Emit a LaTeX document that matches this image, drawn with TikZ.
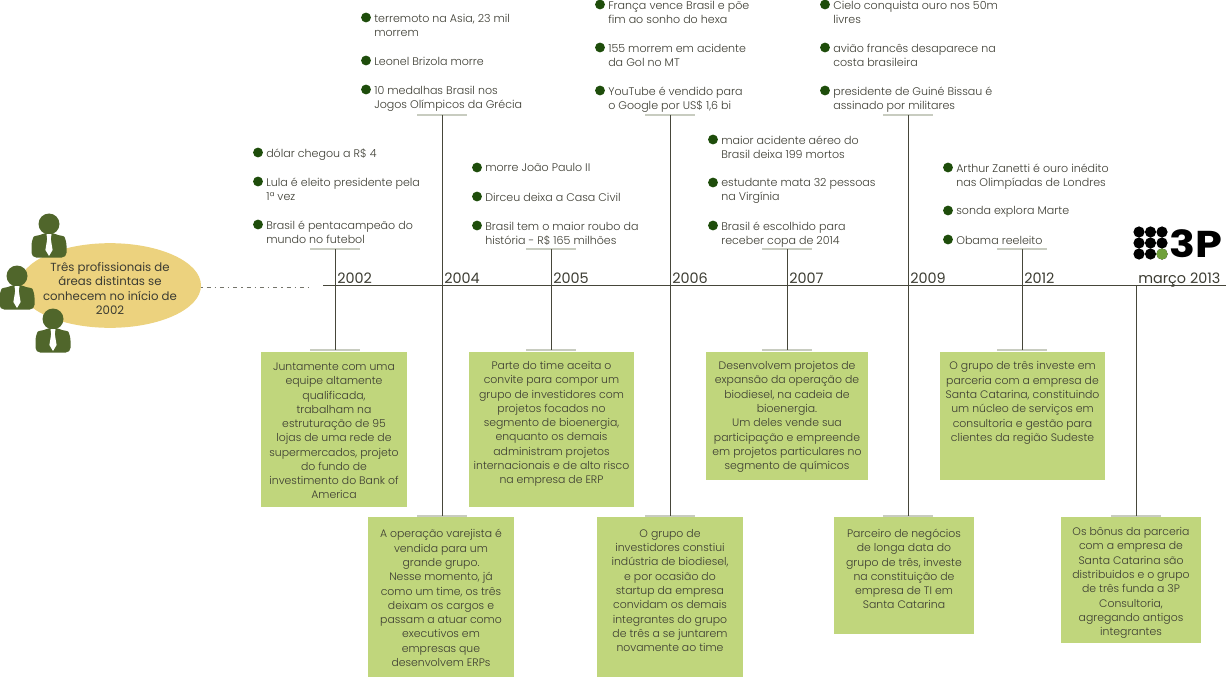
\documentclass[tikz,border=0pt]{standalone}
\usepackage{fontspec}
\usepackage{graphicx}
\usetikzlibrary{shapes.geometric}
\setmainfont{Poppins Light}
\newfontfamily\boldf{Poppins Bold}
\newfontfamily\regf{Poppins}
\definecolor{txt}{HTML}{3C3C32}
\definecolor{axisc}{HTML}{46463A}
\definecolor{capc}{HTML}{C8CCC0}
\definecolor{boxc}{HTML}{C0D67C}
\definecolor{ell}{HTML}{ECD27E}
\definecolor{bul}{HTML}{1E4D0B}
\definecolor{pers}{HTML}{50662B}
\definecolor{logog}{HTML}{6FA03A}
\tikzset{
  every node/.style={text=txt,inner sep=0pt,font=\fontsize{8.15pt}{10.7pt}\selectfont},
  axisline/.style={draw=axisc,line width=0.65pt},
  capline/.style={draw=capc,line width=1.5pt},
  greenbox/.style={fill=boxc,anchor=north west,align=center},
  yearlab/.style={font=\regf\fontsize{10.8pt}{12pt}\selectfont,anchor=base west},
  bulletdot/.style={circle,fill=bul,minimum size=7.4pt},
  itemtext/.style={anchor=north west,align=left,font=\fontsize{8.3pt}{10.5pt}\selectfont},
}
\newcommand{\bulitem}[4]{%
  \node[bulletdot] (#1d) at (#2,#3-0.5) {};
  \node[itemtext] (#1) at (#2+8,#3-4.5) {#4};}
\newcommand{\person}[3]{%
  \fill[pers] (#2,#3) circle (10.5);
  \fill[pers,rounded corners=3.5] (#2-17.5,#3+33.5) -- (#2-17.5,#3+17) .. controls (#2-15,#3+12) and (#2-9,#3+11) .. (#2-5,#3+9) -- (#2+5,#3+9) .. controls (#2+9,#3+11) and (#2+15,#3+12) .. (#2+17.5,#3+17) -- (#2+17.5,#3+33.5) -- cycle;
  \fill[white] (#2-2.5,#3+10) -- (#2+2.5,#3+10) -- (#2+1.8,#3+15) -- (#2+3.6,#3+26) -- (#2,#3+32) -- (#2-3.6,#3+26) -- (#2-1.8,#3+15) -- cycle;
  \coordinate (#1) at (#2,#3);}
\begin{document}
\begin{tikzpicture}[x=0.75pt,y=-0.75pt]
\useasboundingbox (0,0) rectangle (1226,677);
\node[ellipse,fill=ell,minimum width=136.5pt,minimum height=63.5pt,align=center,inner sep=0pt] (start) at (110,285.5) {};
\person{p1}{49}{224}
\person{p2}{17}{276}
\person{p3}{53}{319}
\node[align=center,font=\regf\fontsize{8.8pt}{10.6pt}\selectfont] (startlab) at (110,288.5) {Três profissionais de\\áreas distintas se\\conhecem no início de\\2002};
\coordinate (dashend) at (310,287);
\draw[axisc!75,line width=0.5pt,dash pattern=on 1pt off 3pt on 3pt off 3pt] (start.east) ++(0,1.5) -- (dashend);
\coordinate (axL) at (323,285);
\coordinate (axR) at (1226,285);
\draw[axisline] (axL) -- (axR);
\foreach \n/\x/\t/\b/\lab in {a/335/249/350/2002,b/442/115/516/2004,c/551/249/350/2005,d/670/115/516/2006,e/787/249/350/2007,f/908/115/516/2009,g/1022/249/350/2012}{
  \coordinate (\n t) at (\x,\t);
  \coordinate (\n b) at (\x,\b);
  \draw[capline] ([xshift=-18.75pt]\n t) -- ([xshift=18.75pt]\n t);
  \draw[capline] ([xshift=-18.75pt]\n b) -- ([xshift=18.75pt]\n b);
  \draw[axisline] (\n t) -- (\n b);
  \node[yearlab] (\n y) at (\x+2,283) {\lab};
}
\coordinate (ht) at (1136,285);
\coordinate (hb) at (1136,516);
\draw[capline] ([xshift=-18.75pt]hb) -- ([xshift=18.75pt]hb);
\draw[axisline] (ht) -- (hb);
\node[yearlab] (hy) at (1138,283) {março 2013};
\node[greenbox,minimum width=109.5pt,minimum height=116.25pt] (g1) at (261,352) {};
\node[align=center] at (334,431) {Juntamente com uma\\equipe altamente\\qualificada,\\trabalham na\\estruturação de 95\\lojas  de uma rede de\\supermercados, projeto\\do fundo de\\investimento do Bank of\\America};
\node[greenbox,minimum width=123.75pt,minimum height=116.25pt] (g2) at (469,352) {};
\node[align=center] at (551.5,424) {Parte do time aceita o\\convite para compor um\\grupo de investidores com\\projetos focados no\\segmento de bioenergia,\\enquanto os demais\\administram projetos\\internacionais e de alto risco\\na empresa de ERP};
\node[greenbox,minimum width=121.5pt,minimum height=96pt] (g3) at (706,352) {};
\node[align=center] at (787,417) {Desenvolvem projetos de\\expansão da operação de\\biodiesel, na cadeia de\\bioenergia.\\Um deles vende sua\\participação e empreende\\em projetos particulares no\\segmento de químicos};
\node[greenbox,minimum width=123.75pt,minimum height=96pt] (g4) at (940,352) {};
\node[align=center] at (1022.5,403) {O grupo de três investe em\\parceria com a empresa de\\Santa Catarina, constituindo\\um núcleo de serviços em\\consultoria e gestão para\\clientes da região Sudeste};
\node[greenbox,minimum width=109.5pt,minimum height=120pt] (g5) at (368,517) {};
\node[align=center] at (441,598) {A operação varejista é\\vendida para um\\grande grupo.\\Nesse momento, já\\como um time, os três\\deixam os cargos e\\passam a atuar como\\executivos em\\empresas que\\desenvolvem ERPs};
\node[greenbox,minimum width=109.5pt,minimum height=120pt] (g6) at (597,517) {};
\node[align=center] at (670,590.5) {O grupo de\\investidores constiui\\indústria de biodiesel,\\e por ocasião do\\startup da empresa\\convidam os demais\\integrantes do grupo\\de três a se juntarem\\novamente ao time};
\node[greenbox,minimum width=105pt,minimum height=87.75pt] (g7) at (834,517) {};
\node[align=center] at (904,569) {Parceiro de negócios\\de longa data do\\grupo de três, investe\\na constituição de\\empresa de TI em\\Santa Catarina};
\node[greenbox,minimum width=105pt,minimum height=94.5pt] (g8) at (1061,517) {};
\node[align=center] at (1131,583) {Os bônus da parceria\\com a empresa de\\Santa Catarina são\\distribuidos e o grupo\\de três funda a 3P\\Consultoria,\\agregando antigos\\integrantes};
\bulitem{i1}{258}{153}{dólar chegou a R\$ 4}
\bulitem{i2}{258}{182}{Lula é eleito presidente pela\\1ª vez}
\bulitem{i3}{258}{225}{Brasil é pentacampeão do\\mundo no futebol}
\bulitem{i4}{366}{18}{terremoto na Asia, 23 mil\\morrem}
\bulitem{i5}{366}{61}{Leonel Brizola morre}
\bulitem{i6}{366}{90}{10 medalhas Brasil nos\\Jogos Olímpicos da Grécia}
\bulitem{i7}{477}{168}{morre João Paulo II}
\bulitem{i8}{477}{197}{Dirceu deixa a Casa Civil}
\bulitem{i9}{477}{226}{Brasil tem o maior roubo da\\história - R\$ 165 milhões}
\bulitem{i10}{600}{5}{França vence Brasil e põe\\fim ao sonho do hexa}
\bulitem{i11}{600}{48}{155 morrem em acidente\\da Gol no MT}
\bulitem{i12}{600}{91}{YouTube é vendido para\\o Google por US\$ 1,6 bi}
\bulitem{i13}{713}{140}{maior acidente aéreo do\\Brasil deixa 199 mortos}
\bulitem{i14}{713}{183}{estudante mata 32 pessoas\\na Virgínia}
\bulitem{i15}{713}{226}{Brasil é escolhido para\\receber copa de 2014}
\bulitem{i16}{825}{5}{Cielo conquista ouro nos 50m\\livres}
\bulitem{i17}{825}{48}{avião francês desaparece na\\costa brasileira}
\bulitem{i18}{825}{91}{presidente de Guiné Bissau é\\assinado por militares}
\bulitem{i19}{948}{168}{Arthur Zanetti é ouro inédito\\nas Olimpíadas de Londres}
\bulitem{i20}{948}{211}{sonda explora Marte}
\bulitem{i21}{948}{240}{Obama reeleito}
\foreach \i in {0,1,2}{\foreach \j in {0,1,2}{
  \fill[black] (1139+\i*11.5,232+\j*11) circle (5.6);
}}
\fill[logog] (1162,254) circle (5.6);
\node[anchor=west,text=black,font=\boldf\fontsize{28pt}{28pt}\selectfont] (logo) at (1169,244) {\scalebox{1.15}[1]{3P}};
\end{tikzpicture}
\end{document}
